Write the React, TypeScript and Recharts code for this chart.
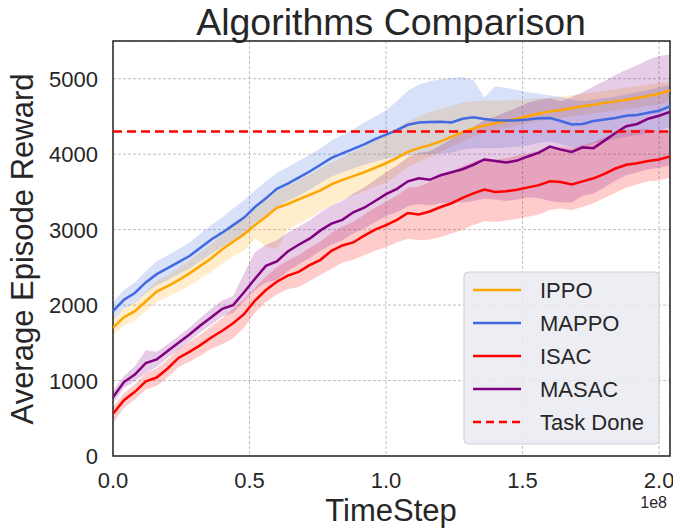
import React from "react"
import {
  ComposedChart,
  Area,
  Line,
  XAxis,
  YAxis,
  CartesianGrid,
  ReferenceLine,
  ReferenceArea,
} from "recharts"

// timesteps in units of 1e8
const TIMESTEPS = [
  0, 0.04, 0.08, 0.12, 0.16, 0.2, 0.24, 0.28, 0.32, 0.36, 0.4, 0.44, 0.48,
  0.52, 0.56, 0.6, 0.64, 0.68, 0.72, 0.76, 0.8, 0.84, 0.88, 0.92, 0.96, 1.0,
  1.04, 1.08, 1.12, 1.16, 1.2, 1.24, 1.28, 1.32, 1.36, 1.4, 1.44, 1.48, 1.52,
  1.56, 1.6, 1.64, 1.68, 1.72, 1.76, 1.8, 1.84, 1.88, 1.92, 1.96, 2.0, 2.04,
]

const IPPO_MEAN = [
  1700, 1840, 1920, 2050, 2180, 2250, 2330, 2420, 2520, 2620, 2740, 2840, 2940,
  3060, 3170, 3290, 3340, 3400, 3460, 3520, 3600, 3660, 3710, 3760, 3820, 3880,
  3950, 4030, 4080, 4120, 4170, 4230, 4290, 4340, 4380, 4410, 4440, 4470, 4505,
  4540, 4565, 4585, 4610, 4635, 4655, 4680, 4700, 4720, 4745, 4770, 4800, 4845,
]
const IPPO_HIGH = [
  1800, 1950, 2040, 2180, 2320, 2400, 2490, 2590, 2700, 2810, 2930, 3040, 3150,
  3270, 3390, 3510, 3580, 3650, 3730, 3810, 3890, 3960, 4030, 4100, 4180, 4260,
  4350, 4430, 4500, 4560, 4600, 4640, 4680, 4700, 4710, 4710, 4710, 4720, 4730,
  4740, 4750, 4760, 4780, 4800, 4820, 4840, 4860, 4880, 4900, 4920, 4940, 4960,
]
const IPPO_LOW = [
  1600, 1730, 1800, 1920, 2040, 2110, 2180, 2260, 2350, 2440, 2550, 2650, 2720,
  2880, 2780, 2740, 3000, 3080, 3150, 3250, 3320, 3390, 3450, 3510, 3570, 3620,
  3720, 3830, 3900, 3960, 4030, 4100, 4170, 4230, 4280, 4320, 4350, 4380, 4410,
  4440, 4460, 4480, 4500, 4520, 4540, 4560, 4580, 4600, 4620, 4640, 4660, 4700,
]

const MAPPO_MEAN = [
  1920, 2070, 2160, 2300, 2410, 2490, 2570, 2650, 2760, 2870, 2960, 3060, 3160,
  3300, 3415, 3540, 3610, 3690, 3770, 3860, 3950, 4010, 4070, 4130, 4200, 4260,
  4320, 4390, 4420, 4425, 4430, 4420, 4470, 4490, 4465, 4450, 4445, 4450, 4460,
  4475, 4480, 4440, 4395, 4400, 4440, 4460, 4480, 4510, 4520, 4550, 4575, 4635,
]
const MAPPO_HIGH = [
  2040, 2200, 2300, 2450, 2580, 2660, 2740, 2830, 2950, 3060, 3160, 3280, 3390,
  3520, 3640, 3750, 3830, 3910, 3990, 4080, 4180, 4250, 4330, 4420, 4500, 4580,
  4700, 4840, 4920, 4970, 4990, 5010, 5020, 4980, 4750, 4900, 4880, 4850, 4820,
  4800, 4780, 4760, 4720, 4700, 4720, 4740, 4760, 4790, 4820, 4850, 4880, 4920,
]
const MAPPO_LOW = [
  1800, 1950, 2030, 2160, 2260, 2330, 2410, 2480, 2580, 2680, 2770, 2860, 2950,
  3080, 3190, 3300, 3380, 3450, 3530, 3620, 3700, 3760, 3810, 3860, 3900, 3940,
  3960, 3980, 4000, 4000, 4010, 4020, 4060, 4080, 4080, 4080, 4090, 4100, 4120,
  4150, 4170, 4130, 4090, 4100, 4140, 4170, 4200, 4230, 4250, 4280, 4310, 4360,
]

const ISAC_MEAN = [
  560, 740, 850, 990, 1040, 1160, 1300, 1380, 1470, 1570, 1660, 1760, 1880,
  2060, 2200, 2310, 2390, 2440, 2530, 2600, 2720, 2790, 2830, 2920, 3000, 3060,
  3130, 3220, 3200, 3240, 3300, 3350, 3420, 3480, 3530, 3500, 3510, 3530, 3560,
  3590, 3640, 3630, 3600, 3640, 3680, 3740, 3810, 3860, 3880, 3910, 3930, 3970,
]
const ISAC_HIGH = [
  650, 830, 950, 1100, 1160, 1280, 1420, 1510, 1610, 1720, 1830, 1950, 2080,
  2230, 2380, 2500, 2590, 2660, 2760, 2840, 2960, 3040, 3100, 3200, 3290, 3370,
  3450, 3560, 3570, 3630, 3700, 3760, 3840, 3900, 3950, 3930, 3950, 3980, 4010,
  4050, 4100, 4100, 4080, 4120, 4160, 4220, 4280, 4320, 4330, 4330, 4300, 4320,
]
const ISAC_LOW = [
  430, 640, 750, 880, 930, 1040, 1180, 1250, 1330, 1420, 1480, 1560, 1700,
  1900, 2040, 2140, 2210, 2240, 2320, 2400, 2480, 2560, 2600, 2660, 2720, 2770,
  2830, 2880, 2860, 2870, 2900, 2950, 3000, 3060, 3110, 3100, 3120, 3140, 3170,
  3200, 3260, 3280, 3260, 3300, 3350, 3420, 3490, 3560, 3600, 3640, 3650, 3690,
]

const MASAC_MEAN = [
  780, 980, 1080, 1230, 1280, 1390, 1500, 1610, 1730, 1840, 1950, 2000, 2170,
  2350, 2520, 2580, 2710, 2800, 2880, 2990, 3080, 3130, 3230, 3290, 3380, 3470,
  3540, 3640, 3680, 3660, 3720, 3760, 3800, 3860, 3930, 3910, 3890, 3915, 3970,
  4020, 4100, 4060, 4030, 4090, 4080, 4180, 4280, 4370, 4400, 4470, 4510, 4560,
]
const MASAC_HIGH = [
  860, 1060, 1190, 1400, 1380, 1480, 1590, 1700, 1830, 1950, 2060, 2120, 2420,
  2700, 2800, 2860, 2960, 3040, 3120, 3230, 3320, 3380, 3480, 3560, 3660, 3760,
  3850, 3960, 4020, 4040, 4120, 4200, 4280, 4360, 4450, 4500, 4560, 4620, 4680,
  4720, 4740, 4700, 4760, 4820, 4900, 4970, 5050, 5120, 5180, 5250, 5300, 5320,
]
const MASAC_LOW = [
  700, 900, 990, 1100, 1180, 1300, 1410, 1520, 1640, 1740, 1850, 1900, 2050,
  2200, 2300, 2330, 2450, 2540, 2620, 2720, 2800, 2860, 2950, 3020, 3100, 3180,
  3230, 3310, 3340, 3320, 3350, 3360, 3360, 3380, 3410, 3400, 3380, 3400, 3430,
  3420, 3380, 3360, 3360, 3450, 3480, 3560, 3650, 3720, 3760, 3800, 3820, 3850,
]

const TASK_DONE = 4300
const X_TICKS = [0, 0.5, 1.0, 1.5, 2.0]
const Y_TICKS = [0, 1000, 2000, 3000, 4000, 5000]

const SERIES = [
  { key: "ippo", name: "IPPO", color: "#FFA500", mean: IPPO_MEAN, low: IPPO_LOW, high: IPPO_HIGH },
  { key: "mappo", name: "MAPPO", color: "#4169E1", mean: MAPPO_MEAN, low: MAPPO_LOW, high: MAPPO_HIGH },
  { key: "isac", name: "ISAC", color: "#FF0000", mean: ISAC_MEAN, low: ISAC_LOW, high: ISAC_HIGH },
  { key: "masac", name: "MASAC", color: "#800080", mean: MASAC_MEAN, low: MASAC_LOW, high: MASAC_HIGH },
]

const data = TIMESTEPS.map((t, i) => {
  const row: Record<string, any> = { t }
  SERIES.forEach((s) => {
    row[s.key] = s.mean[i]
    row[s.key + "Band"] = [s.low[i], s.high[i]]
  })
  return row
})

const TEXT = "#262626"
const FONT = "'Liberation Sans', Arial, sans-serif"

const XTick = (props: any) => {
  const { x, y, payload } = props
  return (
    <text x={x} y={y + 24} textAnchor="middle" fontSize={22} fill={TEXT} fontFamily={FONT}>
      {Number(payload.value).toFixed(1)}
    </text>
  )
}

const YTick = (props: any) => {
  const { x, y, payload } = props
  return (
    <text x={x - 7} y={y + 8} textAnchor="end" fontSize={22} fill={TEXT} fontFamily={FONT}>
      {payload.value}
    </text>
  )
}

const legendItems = [
  ...SERIES.map((s) => ({ name: s.name, color: s.color, dashed: false })),
  { name: "Task Done", color: "#FF0000", dashed: true },
]

export default function App() {
  return (
    <div style={{ position: "absolute", left: 0, top: 0, width: 673, height: 529, background: "#fff" }}>
      <ComposedChart
        width={673}
        height={529}
        data={data}
        margin={{ top: 41, right: 3, bottom: 0, left: 0 }}
      >
        <CartesianGrid stroke="#b8b8b8" strokeDasharray="3 2" strokeWidth={0.9} />
        <XAxis
          dataKey="t"
          type="number"
          domain={[0, 2.04]}
          ticks={X_TICKS}
          allowDataOverflow
          height={73}
          tickLine={false}
          axisLine={false}
          tick={<XTick />}
        />
        <YAxis
          type="number"
          domain={[0, 5500]}
          ticks={Y_TICKS}
          allowDataOverflow
          width={113}
          tickLine={false}
          axisLine={false}
          tick={<YTick />}
        />
        {SERIES.map((s) => (
          <Area
            key={s.key + "Band"}
            dataKey={s.key + "Band"}
            type="linear"
            stroke="none"
            fill={s.color}
            fillOpacity={0.2}
            isAnimationActive={false}
            activeDot={false}
            dot={false}
          />
        ))}
        {SERIES.map((s) => (
          <Line
            key={s.key}
            dataKey={s.key}
            type="linear"
            stroke={s.color}
            strokeWidth={2.5}
            dot={false}
            activeDot={false}
            isAnimationActive={false}
          />
        ))}
        <ReferenceLine y={TASK_DONE} stroke="#FF0000" strokeWidth={2.5} strokeDasharray="9 5" />
        <ReferenceArea
          x1={0}
          x2={2.04}
          y1={0}
          y2={5500}
          fill="none"
          stroke="#262626"
          strokeWidth={1.5}
          ifOverflow="visible"
        />
      </ComposedChart>

      <svg
        width={673}
        height={529}
        style={{ position: "absolute", left: 0, top: 0, pointerEvents: "none" }}
        fontFamily={FONT}
      >
        <text x={391} y={34.5} textAnchor="middle" fontSize={37.5} fill={TEXT}>
          Algorithms Comparison
        </text>
        <text x={391} y={521} textAnchor="middle" fontSize={31} fill={TEXT}>
          TimeStep
        </text>
        <text x={667} y={508} textAnchor="end" fontSize={16} fill={TEXT}>
          1e8
        </text>
        <text
          transform="translate(33,249) rotate(-90)"
          textAnchor="middle"
          fontSize={31}
          fill={TEXT}
        >
          Average Episode Reward
        </text>

        <rect
          x={464}
          y={272}
          width={195}
          height={172}
          rx={4}
          fill="#EAEAF2"
          fillOpacity={0.85}
          stroke="#d0d0d0"
          strokeWidth={1}
        />
        {legendItems.map((item, i) => {
          const cy = 290 + i * 33
          return (
            <g key={item.name}>
              <line
                x1={473}
                x2={521}
                y1={cy}
                y2={cy}
                stroke={item.color}
                strokeWidth={2.5}
                strokeDasharray={item.dashed ? "8 5" : undefined}
              />
              <text x={540} y={cy + 8} fontSize={22} fill={TEXT}>
                {item.name}
              </text>
            </g>
          )
        })}
      </svg>
    </div>
  )
}
